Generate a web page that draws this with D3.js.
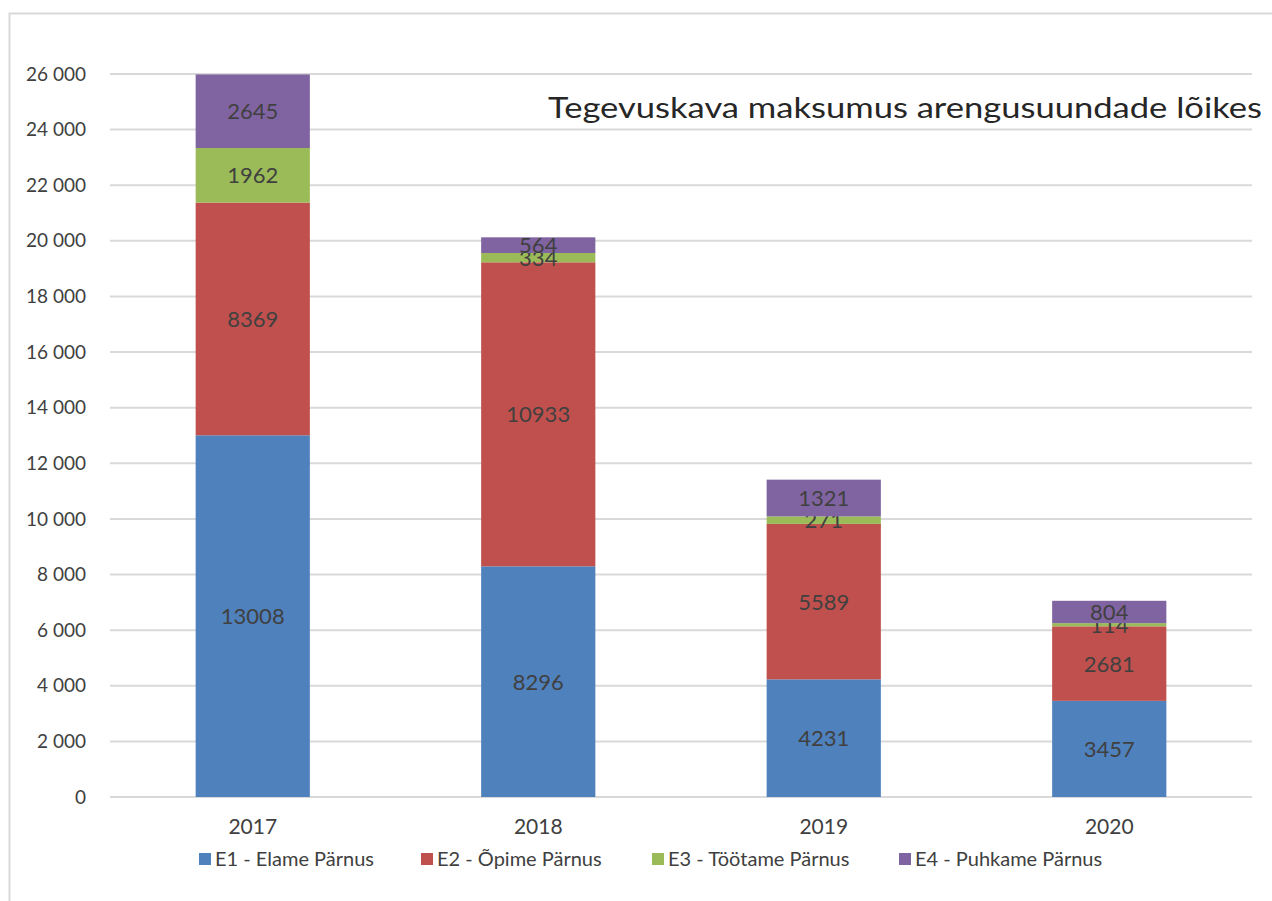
<!DOCTYPE html>
<html>
<head>
<meta charset="utf-8">
<script src="https://cdn.jsdelivr.net/npm/d3@7"></script>
<style>
  body { margin: 0; background: #fff; }
  svg { font-family: Lato, "Open Sans", sans-serif; }
</style>
</head>
<body>
<svg id="chart" width="1272" height="901"></svg>
<script>
// chart data
const years = ["2017", "2018", "2019", "2020"];
const seriesNames = ["E1 - Elame Pärnus", "E2 - Õpime Pärnus", "E3 - Töötame Pärnus", "E4 - Puhkame Pärnus"];
const elame = [13008, 8296, 4231, 3457];
const opime = [8369, 10933, 5589, 2681];
const tootame = [1962, 334, 271, 114];
const puhkame = [2645, 564, 1321, 804];
const yTicks = [0, 2000, 4000, 6000, 8000, 10000, 12000, 14000, 16000, 18000, 20000, 22000, 24000, 26000];
const titleText = "Tegevuskava maksumus arengusuundade lõikes";

const colors = ["#4f81bd", "#c0504d", "#9bbb59", "#8064a2"];
const textColor = "#404040";

const svg = d3.select("#chart");

// outer chart border (only top and left visible in the picture)
svg.append("rect")
  .attr("x", 9.5).attr("y", 13.5)
  .attr("width", 1400).attr("height", 1000)
  .attr("fill", "none")
  .attr("stroke", "#d9d9d9")
  .attr("stroke-width", 2);

const plotLeft = 110, plotRight = 1252, plotTop = 74, plotBottom = 797;

const x = d3.scaleBand().domain(years).range([plotLeft, plotRight]).paddingInner(0.6).paddingOuter(0.3);
const y = d3.scaleLinear().domain([0, 26000]).range([plotBottom, plotTop]);

// table for the stack
const table = years.map((yr, i) => ({
  year: yr, e1: elame[i], e2: opime[i], e3: tootame[i], e4: puhkame[i]
}));
const keys = ["e1", "e2", "e3", "e4"];
const stacked = d3.stack().keys(keys)(table);

const fmt = d3.formatLocale({ decimal: ",", thousands: " ", grouping: [3], currency: ["", ""] }).format(",d");

// gridlines
svg.append("g")
  .selectAll("line")
  .data(yTicks)
  .join("line")
  .attr("x1", plotLeft).attr("x2", plotRight)
  .attr("y1", d => y(d)).attr("y2", d => y(d))
  .attr("stroke", "#d9d9d9")
  .attr("stroke-width", 2);

// y axis labels
const yAxis = svg.append("g")
  .attr("transform", `translate(${plotLeft - 24},0)`)
  .call(d3.axisLeft(y).tickValues(yTicks).tickFormat(fmt).tickSize(0).tickPadding(0));
yAxis.select(".domain").remove();
yAxis.selectAll("text")
  .attr("fill", textColor)
  .style("font-size", "19px")
  .style("font-family", "Lato, 'Open Sans', sans-serif");

// bars
const groups = svg.append("g")
  .selectAll("g")
  .data(stacked)
  .join("g")
  .attr("fill", (d, i) => colors[i]);

groups.selectAll("rect")
  .data(d => d)
  .join("rect")
  .attr("x", d => x(d.data.year))
  .attr("width", x.bandwidth())
  .attr("y", d => y(d[1]))
  .attr("height", d => y(d[0]) - y(d[1]));

// value labels
groups.selectAll("text")
  .data(d => d)
  .join("text")
  .attr("x", d => x(d.data.year) + x.bandwidth() / 2)
  .attr("y", d => (y(d[0]) + y(d[1])) / 2)
  .attr("dy", "0.36em")
  .attr("text-anchor", "middle")
  .attr("fill", textColor)
  .style("font-size", "22px")
  .text(d => d[1] - d[0]);

// x axis labels
const xAxis = svg.append("g")
  .attr("transform", `translate(0,${plotBottom + 22})`)
  .call(d3.axisBottom(x).tickSize(0).tickPadding(0));
xAxis.select(".domain").remove();
xAxis.selectAll("text")
  .attr("fill", textColor)
  .style("font-size", "21px")
  .style("font-family", "Lato, 'Open Sans', sans-serif");

// legend
const legendX = [199, 421, 652, 899];
const legend = svg.append("g")
  .selectAll("g")
  .data(seriesNames)
  .join("g")
  .attr("transform", (d, i) => `translate(${legendX[i]},859)`);
legend.append("rect")
  .attr("x", 0).attr("y", -6)
  .attr("width", 12).attr("height", 12)
  .attr("fill", (d, i) => colors[i]);
legend.append("text")
  .attr("x", 16).attr("y", 0)
  .attr("dy", "0.36em")
  .attr("fill", textColor)
  .style("font-size", "20px")
  .text(d => d);

// title
svg.append("text")
  .attr("x", 548).attr("y", 118)
  .attr("fill", "#262626")
  .style("font-size", "29px")
  .attr("textLength", 714)
  .attr("lengthAdjust", "spacingAndGlyphs")
  .text(titleText);
</script>
</body>
</html>
